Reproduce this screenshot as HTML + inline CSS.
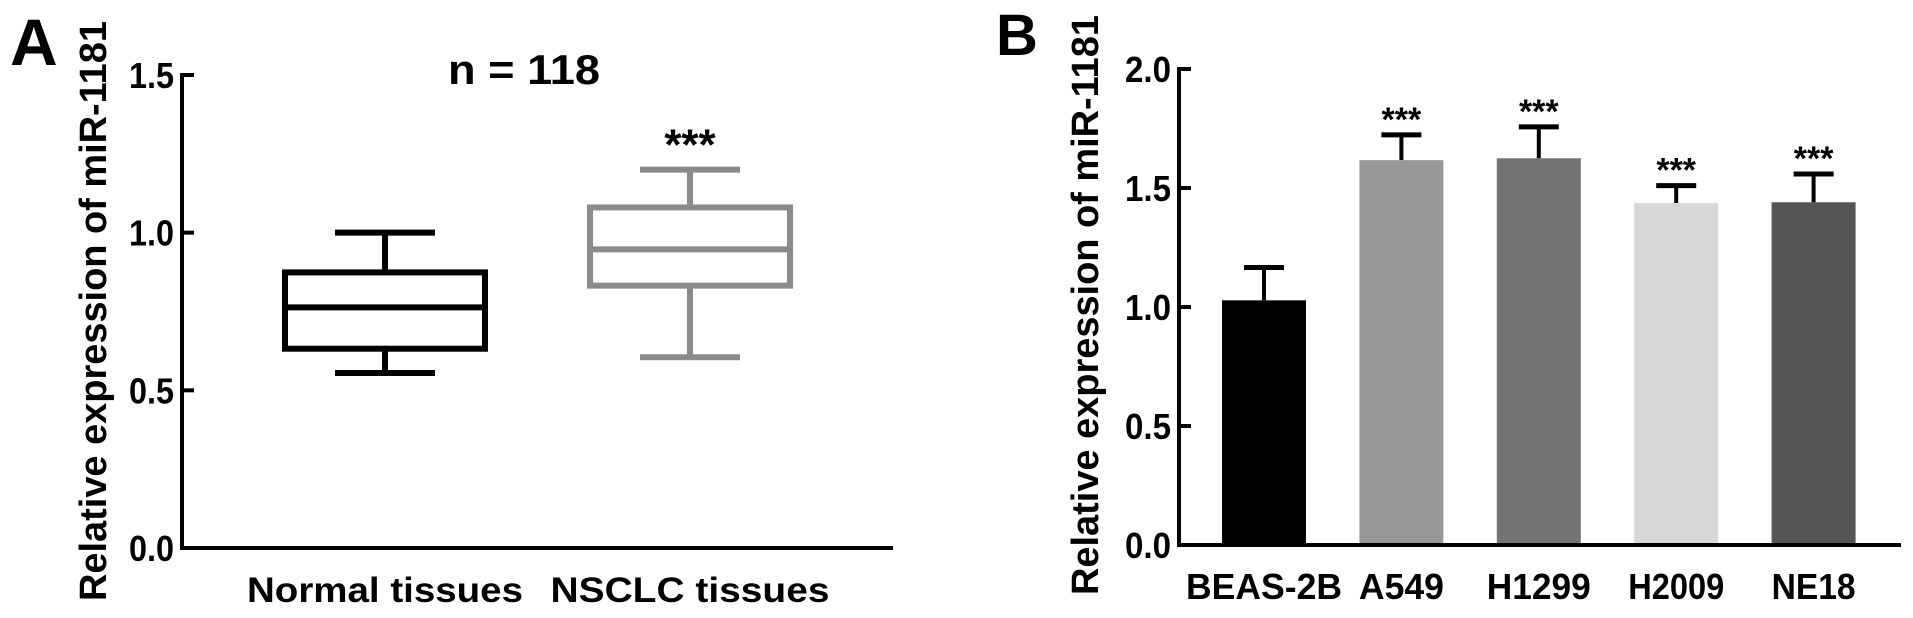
<!DOCTYPE html>
<html><head><meta charset="utf-8"><style>
html,body{margin:0;padding:0;background:#fff;}
svg{display:block;font-family:"Liberation Sans",Arial,sans-serif;}
</style></head><body>
<svg id="fig" width="1913" height="618" viewBox="0 0 1913 618">
<text x="10" y="65" font-size="66" font-weight="bold">A</text>
<text x="996" y="55" font-size="58" font-weight="bold">B</text>
<g id="pa"></g>
<g id="pb"></g>
</svg>
<script>
const NS="http://www.w3.org/2000/svg";
// Panel A data
const aCategories=["Normal tissues","NSCLC tissues"];
const aMin=[0.555,0.605];
const aQ1=[0.632,0.832];
const aMedian=[0.763,0.947];
const aQ3=[0.874,1.08];
const aMax=[1.0,1.2];
const aTicks=["0.0","0.5","1.0","1.5"];
// Panel B data
const bCategories=["BEAS-2B","A549","H1299","H2009","NE18"];
const bMeans=[1.028,1.617,1.625,1.437,1.44];
const bErrors=[0.138,0.106,0.132,0.073,0.119];
const bSig=["","***","***","***","***"];
const bTicks=["0.0","0.5","1.0","1.5","2.0"];

function mk(parent,tag,attrs,text){const e=document.createElementNS(NS,tag);for(const k in attrs)e.setAttribute(k,attrs[k]);if(text!==undefined)e.textContent=text;parent.appendChild(e);return e;}

// ---- Panel A ----
const pa=document.getElementById('pa');
const aX0=182,aX1=893,aY0=548,aYtop=75,aMaxV=1.5;
const ay=v=>aY0-(v/aMaxV)*(aY0-aYtop);
const aCenters=[385,690];
const ax=i=>aCenters[i];
let l;
l=mk(pa,'line',{x1:aX0,y1:aYtop-2,x2:aX0,y2:aY0+2,stroke:'#000','stroke-width':4});

l=mk(pa,'line',{x1:aX0-2,y1:aY0,x2:aX1,y2:aY0,stroke:'#000','stroke-width':4});

aTicks.forEach(t=>{const v=parseFloat(t);
 const tk=mk(pa,'line',{x1:aX0,y1:ay(v),x2:aX0+12,y2:ay(v),stroke:'#000','stroke-width':4});
 
 const tl=mk(pa,'text',{x:aX0-8,y:ay(v)+13,'font-size':36,'font-weight':'bold','text-anchor':'end',textLength:45,lengthAdjust:'spacingAndGlyphs'},t);
 
});
const aLabW=[276,279];
aCategories.forEach((c,i)=>{
 const col=i===0?'#000':'#8a8a8a';
 const cx=ax(i),hw=100,cw=50;
 const g=mk(pa,'g',{});
 
 const s={stroke:col,'stroke-width':6,fill:'none'};
 mk(g,'line',Object.assign({x1:cx,y1:ay(aMax[i]),x2:cx,y2:ay(aQ3[i])},s));
 mk(g,'line',Object.assign({x1:cx,y1:ay(aQ1[i]),x2:cx,y2:ay(aMin[i])},s));
 mk(g,'line',Object.assign({x1:cx-cw,y1:ay(aMax[i]),x2:cx+cw,y2:ay(aMax[i])},s));
 mk(g,'line',Object.assign({x1:cx-cw,y1:ay(aMin[i]),x2:cx+cw,y2:ay(aMin[i])},s));
 mk(g,'rect',Object.assign({x:cx-hw,y:ay(aQ3[i]),width:2*hw,height:ay(aQ1[i])-ay(aQ3[i])},s));
 mk(g,'line',Object.assign({x1:cx-hw,y1:ay(aMedian[i]),x2:cx+hw,y2:ay(aMedian[i])},s));
 const tl=mk(pa,'text',{x:cx,y:602,'font-size':35,'font-weight':'bold','text-anchor':'middle',textLength:aLabW[i],lengthAdjust:'spacingAndGlyphs'},c);
 
});
l=mk(pa,'text',{x:ax(1),y:ay(aMax[1])-10,'font-size':44,'font-weight':'bold','text-anchor':'middle'},'***');

l=mk(pa,'text',{x:524,y:84,'font-size':42,'font-weight':'bold','text-anchor':'middle',textLength:152,lengthAdjust:'spacingAndGlyphs'},'n = 118');

l=mk(pa,'text',{x:0,y:0,'font-size':38,'font-weight':'bold','text-anchor':'middle',transform:'translate(106,311) rotate(-90)',textLength:580,lengthAdjust:'spacingAndGlyphs'},'Relative expression of miR-1181');


// ---- Panel B ----
const pb=document.getElementById('pb');
const bX0=1179,bX1=1901,bY0=545,bYtop=69,bMaxV=2.0;
const by=v=>bY0-(v/bMaxV)*(bY0-bYtop);
const bStart=1264,bStep=137.4,bW=84;
const bx=i=>bStart+i*bStep;
const bColors=['#000','#989898','#737373','#d8d8d8','#555555'];
const bLabW=[156,85,104,96,84];
bCategories.forEach((c,i)=>{
 const cx=bx(i);
 const top=by(bMeans[i]+bErrors[i]);
 const e=mk(pb,'line',{x1:cx,y1:by(bMeans[i]),x2:cx,y2:top,stroke:'#000','stroke-width':4});
 
 const cap=mk(pb,'line',{x1:cx-20,y1:top,x2:cx+20,y2:top,stroke:'#000','stroke-width':5});
 
 const r=mk(pb,'rect',{x:cx-bW/2,y:by(bMeans[i]),width:bW,height:bY0-by(bMeans[i]),fill:bColors[i]});
 
 if(bSig[i]){const s=mk(pb,'text',{x:cx,y:top-4,'font-size':34,'font-weight':'bold','text-anchor':'middle'},bSig[i]);
  }
 const tl=mk(pb,'text',{x:cx,y:599,'font-size':36,'font-weight':'bold','text-anchor':'middle',textLength:bLabW[i],lengthAdjust:'spacingAndGlyphs'},c);
 
});
l=mk(pb,'line',{x1:bX0,y1:bYtop-2,x2:bX0,y2:bY0+2,stroke:'#000','stroke-width':4});

l=mk(pb,'line',{x1:bX0-2,y1:bY0,x2:bX1,y2:bY0,stroke:'#000','stroke-width':4});

bTicks.forEach(t=>{const v=parseFloat(t);
 const tk=mk(pb,'line',{x1:bX0,y1:by(v),x2:bX0+12,y2:by(v),stroke:'#000','stroke-width':4});
 
 const tl=mk(pb,'text',{x:bX0-8,y:by(v)+13,'font-size':36,'font-weight':'bold','text-anchor':'end',textLength:46,lengthAdjust:'spacingAndGlyphs'},t);
 
});
l=mk(pb,'text',{x:0,y:0,'font-size':38,'font-weight':'bold','text-anchor':'middle',transform:'translate(1098,305) rotate(-90)',textLength:580,lengthAdjust:'spacingAndGlyphs'},'Relative expression of miR-1181');

</script>
</body></html>
